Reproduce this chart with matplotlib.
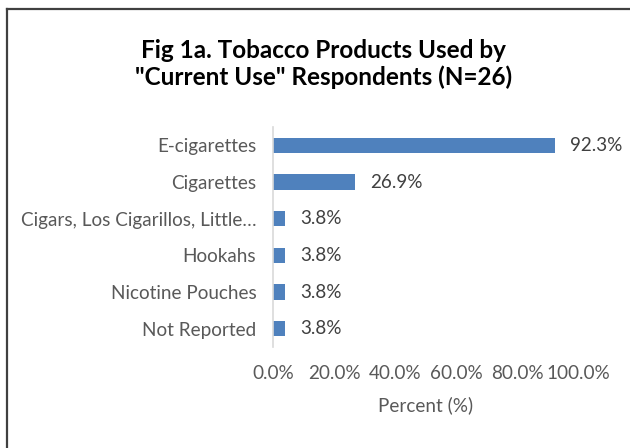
import matplotlib.pyplot as plt
from matplotlib.lines import Line2D
from matplotlib.ticker import FuncFormatter

# data
categories = ['E-cigarettes', 'Cigarettes', 'Cigars, Los Cigarillos, Little…',
              'Hookahs', 'Nicotine Pouches', 'Not Reported']
percents = [92.3, 26.9, 3.8, 3.8, 3.8, 3.8]
x_ticks = [0, 20, 40, 60, 80, 100]

plt.rcParams['font.family'] = ['Lato', 'DejaVu Sans']
grey = '#595959'
fs = 13.6

fig = plt.figure(figsize=(6.3, 4.48), dpi=100)
ax = fig.add_axes([273 / 630, 1 - 347 / 448, 305 / 630, 220 / 448])

ypos = list(range(len(categories)))
bars = ax.barh(ypos, percents, height=0.41, color='#4F81BD')
ax.set_ylim(len(categories) - 0.5, -0.5)
ax.set_xlim(0, 100)

ax.set_yticks(ypos)
ax.set_yticklabels(categories)
ax.set_xticks(x_ticks)
ax.xaxis.set_major_formatter(FuncFormatter(lambda v, p: f"{v:.1f}%"))
ax.tick_params(axis='y', length=0, pad=12, labelsize=fs, labelcolor=grey)
ax.tick_params(axis='x', length=0, pad=13, labelsize=fs, labelcolor=grey)

for side in ['top', 'right', 'bottom']:
    ax.spines[side].set_visible(False)
ax.spines['left'].set_color('#D9D9D9')
ax.spines['left'].set_linewidth(1.2)

# data labels
for b, v in zip(bars, percents):
    ax.annotate(f"{v:.1f}%", (b.get_width(), b.get_y() + b.get_height() / 2),
                xytext=(11, 0), textcoords='offset points',
                va='center', ha='left', fontsize=fs, color='#404040')

ax.set_xlabel('Percent (%)', fontsize=fs, color=grey, labelpad=10)

fig.text(0.513, 1 - 64 / 448, 'Fig 1a. Tobacco Products Used by\n"Current Use" Respondents (N=26)',
         ha='center', va='center', fontsize=17.5, fontweight='bold',
         color='black', linespacing=1.15)

# chart border (only top and left visible in the crop)
fig.add_artist(Line2D([7 / 630, 7 / 630], [0, 1 - 9 / 448], transform=fig.transFigure,
                      color='#404040', lw=1.6))
fig.add_artist(Line2D([7 / 630, 1], [1 - 9 / 448, 1 - 9 / 448], transform=fig.transFigure,
                      color='#404040', lw=1.6))

fig.savefig('out.png', dpi=100)
